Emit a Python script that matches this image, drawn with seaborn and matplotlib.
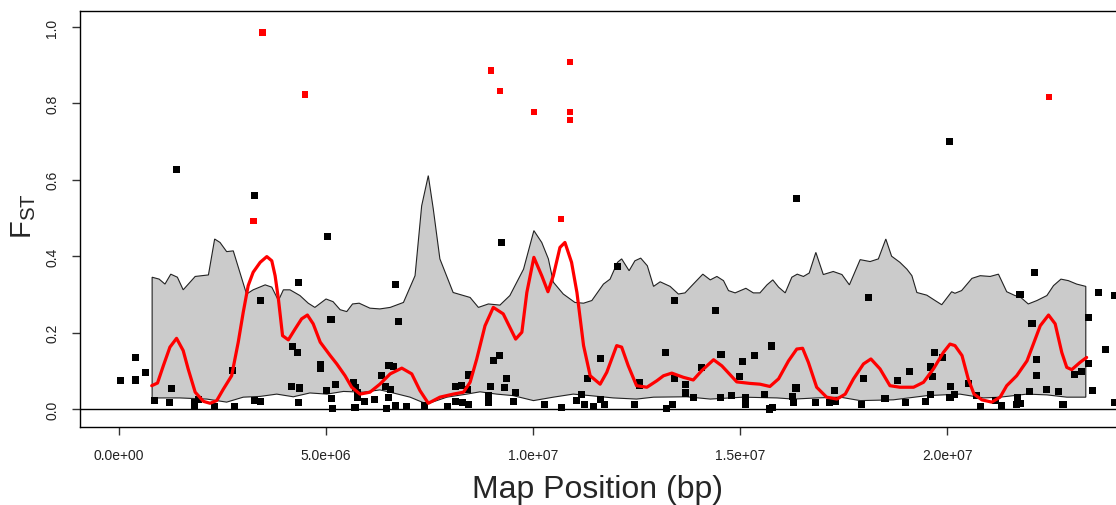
import numpy as np
import pandas as pd
import seaborn as sns
import matplotlib.pyplot as plt

# SNP positions (Mb) and FST
snp_pos = [0.03, 0.39, 0.39, 0.64, 0.86, 1.23, 1.26, 1.38, 1.82, 1.82, 1.93, 2.31, 2.74, 2.80,
           3.28, 3.28, 3.41, 3.41, 4.16, 4.18, 4.32, 4.33, 4.34, 4.36, 4.87, 4.87, 5.01, 5.04,
           5.12, 5.13, 5.15, 5.23, 5.67, 5.70, 5.71, 5.76, 5.76, 5.94, 6.16, 6.34, 6.44, 6.51,
           6.52, 6.56, 6.64, 6.45, 6.68, 6.68, 6.76, 6.95, 7.37, 7.93, 8.12, 8.12, 8.28, 8.29,
           8.41, 8.43, 8.44, 8.92, 8.92, 8.98, 9.04, 9.18, 9.24, 9.30, 9.36, 9.52, 9.57, 10.27,
           10.68, 11.06, 11.16, 11.25, 11.31, 11.47, 11.62, 11.64, 11.72, 12.04, 12.45, 12.57,
           12.57, 13.21, 13.23, 13.37, 13.42, 13.42, 13.69, 13.69, 13.87, 14.07, 14.41, 14.52,
           14.54, 14.79, 14.99, 15.05, 15.13, 15.14, 15.34, 15.59, 15.71, 15.77, 15.79, 16.26,
           16.29, 16.35, 16.37, 16.83, 17.17, 17.29, 17.31, 17.93, 17.98, 18.10, 18.50, 18.80,
           19.00, 19.10, 19.48, 19.61, 19.61, 19.65, 19.69, 19.90, 20.06, 20.07, 20.09, 20.18,
           20.51, 20.72, 20.81, 21.17, 21.31, 21.68, 21.69, 21.76, 21.78, 21.99, 22.05, 22.10,
           22.15, 22.15, 22.41, 22.69, 22.80, 23.07, 23.24, 23.41, 23.41, 23.51, 23.66, 23.82,
           24.04, 24.05]
snp_fst = [0.074, 0.134, 0.076, 0.096, 0.022, 0.017, 0.054, 0.628, 0.017, 0.007, 0.026, 0.007,
           0.102, 0.007, 0.558, 0.022, 0.283, 0.019, 0.058, 0.163, 0.147, 0.332, 0.016, 0.055,
           0.116, 0.105, 0.049, 0.451, 0.234, 0.028, 0.002, 0.065, 0.070, 0.005, 0.057, 0.044,
           0.031, 0.019, 0.026, 0.087, 0.059, 0.031, 0.115, 0.051, 0.111, 0.002, 0.010, 0.325,
           0.229, 0.006, 0.009, 0.006, 0.059, 0.020, 0.061, 0.017, 0.051, 0.011, 0.089, 0.035,
           0.017, 0.058, 0.126, 0.139, 0.435, 0.057, 0.080, 0.019, 0.044, 0.011, 0.003, 0.022,
           0.037, 0.013, 0.080, 0.007, 0.024, 0.132, 0.011, 0.374, 0.011, 0.070, 0.061, 0.147,
           0.002, 0.011, 0.284, 0.080, 0.064, 0.042, 0.031, 0.109, 0.259, 0.031, 0.142, 0.036,
           0.086, 0.125, 0.029, 0.013, 0.139, 0.038, 0.000, 0.165, 0.004, 0.033, 0.017, 0.055,
           0.551, 0.017, 0.016, 0.048, 0.021, 0.013, 0.080, 0.292, 0.028, 0.074, 0.018, 0.098,
           0.020, 0.037, 0.110, 0.085, 0.149, 0.134, 0.701, 0.031, 0.060, 0.039, 0.067, 0.035,
           0.007, 0.022, 0.009, 0.013, 0.030, 0.300, 0.015, 0.046, 0.223, 0.357, 0.129, 0.088,
           0.051, 0.045, 0.013, 0.090, 0.097, 0.240, 0.118, 0.049, 0.305, 0.156, 0.017, 0.298]

# outlier SNPs (red)
out_pos = [3.25, 3.47, 4.49, 8.98, 9.20, 10.02, 10.68, 10.89, 10.89, 10.89, 22.46]
out_fst = [0.492, 0.985, 0.823, 0.886, 0.832, 0.777, 0.497, 0.909, 0.777, 0.757, 0.817]

# neutral envelope, upper bound
hi_pos = [0.80, 0.97, 1.11, 1.25, 1.41, 1.55, 1.84, 2.16, 2.31, 2.44, 2.60, 2.76, 3.08, 3.24,
          3.53, 3.69, 3.85, 3.97, 4.13, 4.37, 4.57, 4.73, 5.00, 5.17, 5.34, 5.50, 5.64, 5.80,
          6.06, 6.30, 6.55, 6.87, 7.15, 7.31, 7.47, 7.59, 7.75, 8.07, 8.48, 8.68, 8.92, 9.20,
          9.44, 9.77, 10.02, 10.21, 10.37, 10.49, 10.73, 11.01, 11.22, 11.42, 11.70, 11.86,
          12.04, 12.14, 12.32, 12.46, 12.60, 12.76, 12.91, 13.07, 13.31, 13.51, 13.67, 13.87,
          14.10, 14.28, 14.44, 14.60, 14.72, 14.88, 15.14, 15.32, 15.48, 15.65, 15.79, 15.93,
          16.09, 16.25, 16.38, 16.53, 16.67, 16.83, 17.01, 17.25, 17.46, 17.64, 17.90, 18.14,
          18.34, 18.52, 18.66, 18.86, 19.03, 19.15, 19.27, 19.51, 19.71, 19.87, 20.11, 20.19,
          20.35, 20.60, 20.80, 21.04, 21.24, 21.44, 21.64, 21.76, 21.96, 22.17, 22.41, 22.57,
          22.75, 22.93, 23.13, 23.35]
hi_fst = [0.345, 0.340, 0.327, 0.353, 0.345, 0.312, 0.347, 0.351, 0.445, 0.436, 0.412, 0.414,
          0.301, 0.312, 0.325, 0.319, 0.284, 0.312, 0.312, 0.297, 0.277, 0.266, 0.288, 0.281,
          0.260, 0.255, 0.275, 0.277, 0.264, 0.262, 0.266, 0.279, 0.349, 0.532, 0.611, 0.524,
          0.393, 0.305, 0.292, 0.266, 0.275, 0.272, 0.297, 0.366, 0.467, 0.436, 0.393, 0.332,
          0.301, 0.279, 0.277, 0.284, 0.327, 0.340, 0.384, 0.393, 0.362, 0.388, 0.395, 0.375,
          0.321, 0.333, 0.321, 0.301, 0.304, 0.327, 0.353, 0.338, 0.347, 0.336, 0.310, 0.304,
          0.316, 0.304, 0.304, 0.325, 0.338, 0.319, 0.304, 0.345, 0.353, 0.347, 0.356, 0.410,
          0.352, 0.360, 0.352, 0.325, 0.391, 0.386, 0.393, 0.445, 0.400, 0.384, 0.366, 0.349,
          0.305, 0.298, 0.284, 0.273, 0.307, 0.303, 0.310, 0.342, 0.349, 0.347, 0.353, 0.307,
          0.297, 0.294, 0.275, 0.284, 0.297, 0.323, 0.340, 0.336, 0.327, 0.321]

# neutral envelope, lower bound
lo_pos = [0.80, 1.47, 2.12, 2.60, 3.00, 3.41, 3.81, 4.21, 4.61, 5.02, 5.42, 5.90, 6.30, 6.55,
          7.03, 7.43, 7.92, 8.40, 8.72, 9.12, 9.52, 10.01, 10.49, 10.97, 11.38, 11.94, 12.50,
          12.91, 13.71, 14.28, 15.08, 15.89, 16.29, 16.85, 17.42, 17.90, 18.70, 19.51, 20.31,
          20.88, 21.28, 21.93, 22.41, 22.89, 23.35]
lo_fst = [0.029, 0.029, 0.026, 0.018, 0.031, 0.033, 0.039, 0.032, 0.042, 0.039, 0.046, 0.044,
          0.050, 0.044, 0.031, 0.013, 0.031, 0.039, 0.045, 0.039, 0.035, 0.022, 0.031, 0.039,
          0.035, 0.029, 0.026, 0.031, 0.032, 0.026, 0.031, 0.029, 0.026, 0.029, 0.031, 0.022,
          0.024, 0.035, 0.039, 0.029, 0.031, 0.039, 0.037, 0.031, 0.031]

# smoothed mean FST (red line)
sm_pos = [0.79, 0.93, 1.07, 1.23, 1.39, 1.55, 1.67, 1.84, 2.04, 2.20, 2.36, 2.52, 2.72, 2.88,
          3.00, 3.12, 3.24, 3.41, 3.57, 3.69, 3.77, 3.85, 3.95, 4.09, 4.25, 4.41, 4.55, 4.69,
          4.86, 5.10, 5.26, 5.46, 5.62, 5.82, 6.06, 6.30, 6.55, 6.83, 7.07, 7.27, 7.47, 7.75,
          8.07, 8.32, 8.48, 8.64, 8.84, 9.04, 9.28, 9.58, 9.73, 9.85, 10.02, 10.21, 10.36,
          10.49, 10.65, 10.77, 10.93, 11.06, 11.22, 11.38, 11.62, 11.78, 12.02, 12.14, 12.30,
          12.50, 12.75, 12.99, 13.15, 13.35, 13.63, 13.87, 14.07, 14.36, 14.56, 14.92, 15.24,
          15.48, 15.72, 15.93, 16.17, 16.37, 16.51, 16.65, 16.85, 17.09, 17.34, 17.54, 17.74,
          17.98, 18.16, 18.38, 18.62, 18.86, 19.19, 19.43, 19.67, 19.91, 20.07, 20.19, 20.36,
          20.51, 20.65, 20.84, 21.08, 21.28, 21.44, 21.68, 21.93, 22.25, 22.45, 22.61, 22.77,
          22.89, 23.01, 23.21, 23.37]
sm_fst = [0.061, 0.068, 0.113, 0.162, 0.185, 0.153, 0.105, 0.044, 0.020, 0.015, 0.022, 0.052,
          0.087, 0.175, 0.253, 0.323, 0.358, 0.384, 0.399, 0.388, 0.349, 0.288, 0.192, 0.181,
          0.209, 0.236, 0.246, 0.223, 0.175, 0.140, 0.118, 0.087, 0.057, 0.039, 0.044, 0.065,
          0.092, 0.107, 0.092, 0.048, 0.015, 0.031, 0.039, 0.044, 0.070, 0.131, 0.218, 0.266,
          0.249, 0.183, 0.201, 0.305, 0.397, 0.349, 0.307, 0.349, 0.423, 0.436, 0.384, 0.305,
          0.166, 0.087, 0.065, 0.096, 0.166, 0.162, 0.113, 0.061, 0.057, 0.074, 0.087, 0.094,
          0.083, 0.076, 0.100, 0.129, 0.113, 0.071, 0.067, 0.065, 0.059, 0.079, 0.126, 0.157,
          0.159, 0.122, 0.057, 0.031, 0.026, 0.039, 0.079, 0.118, 0.131, 0.105, 0.061, 0.057,
          0.057, 0.070, 0.105, 0.148, 0.170, 0.166, 0.140, 0.079, 0.039, 0.024, 0.018, 0.031,
          0.061, 0.087, 0.126, 0.218, 0.246, 0.223, 0.148, 0.109, 0.103, 0.122, 0.135]

xticks = [0, 5e6, 1e7, 1.5e7, 2e7]
xtick_labels = ['0.0e+00', '5.0e+06', '1.0e+07', '1.5e+07', '2.0e+07']
yticks = [0.0, 0.2, 0.4, 0.6, 0.8, 1.0]

snps = pd.DataFrame({'pos': np.array(snp_pos) * 1e6, 'fst': snp_fst})
outliers = pd.DataFrame({'pos': np.array(out_pos) * 1e6, 'fst': out_fst})
smooth = pd.DataFrame({'pos': np.array(sm_pos) * 1e6, 'fst': sm_fst})

sns.set_style('ticks')
plt.rcParams['font.family'] = ['Liberation Sans', 'DejaVu Sans']
plt.rcParams['mathtext.fontset'] = 'custom'
plt.rcParams['mathtext.rm'] = 'Liberation Sans'

fig = plt.figure(figsize=(11.16, 5.06), dpi=100)
# right edge of the box falls just outside the picture, like the reference crop
ax = fig.add_axes([80 / 1116, 78 / 506, 1053 / 1116, 416 / 506])

# envelope polygon
poly_x = np.concatenate([np.array(hi_pos), np.array(lo_pos)[::-1]]) * 1e6
poly_y = np.concatenate([hi_fst, lo_fst[::-1]])
ax.fill(poly_x, poly_y, facecolor='#cbcbcb', edgecolor='#222222', linewidth=0.8, zorder=1)

ax.axhline(0, color='black', linewidth=1, zorder=2)

sns.scatterplot(data=snps, x='pos', y='fst', ax=ax, marker='s', s=26, color='black',
                edgecolor='none', zorder=3)
sns.scatterplot(data=outliers, x='pos', y='fst', ax=ax, marker='s', s=22, color='red',
                edgecolor='none', zorder=3)
sns.lineplot(data=smooth, x='pos', y='fst', ax=ax, color='red', linewidth=2.3,
             sort=False, zorder=4)

ax.set_xlim(-0.942e6, 24.49e6)
ax.set_ylim(-0.0471, 1.0419)
ax.set_xticks(xticks)
ax.set_xticklabels(xtick_labels)
ax.set_yticks(yticks)
ax.set_yticklabels([f'{v:.1f}' for v in yticks], rotation=90, va='center')
ax.tick_params(axis='both', direction='out', length=6, width=1, color='#333333',
               labelsize=10, labelcolor='#222222', pad=9)

for side in ax.spines.values():
    side.set_linewidth(1)
    side.set_color('black')

ax.set_xlabel('Map Position (bp)', fontsize=23)
ax.set_ylabel(r'$\mathregular{F_{ST}}$', fontsize=21)
ax.xaxis.set_label_coords(0.491, -0.112)
ax.yaxis.set_label_coords(-0.040, 0.51)

fig.savefig('out.png', dpi=100)
